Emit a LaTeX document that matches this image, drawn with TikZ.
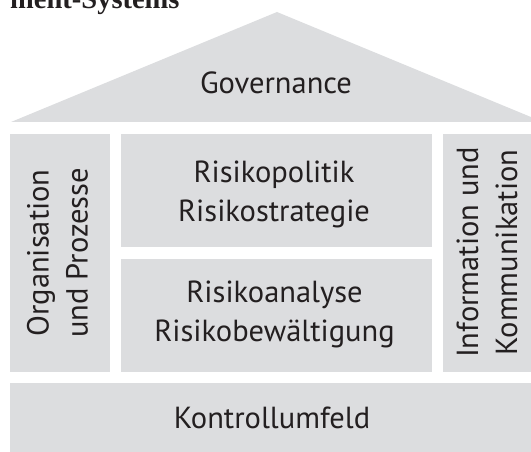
\documentclass[tikz,border=0pt]{standalone}
\usepackage{fontspec}
\setmainfont{PT Sans}
\newfontfamily\headserif{Liberation Serif}
\definecolor{boxgray}{RGB}{220,221,223}
\definecolor{inkdark}{RGB}{35,31,32}
\begin{document}
\begin{tikzpicture}[x=1pt,y=-1pt,
  panel/.style={fill=boxgray, draw=none, inner sep=0pt},
  lbl/.style={text=inkdark, inner sep=0pt, font=\fontsize{30.5}{39}\selectfont, align=center},
  vlbl/.style={lbl, rotate=90}]
\useasboundingbox (0,0) rectangle (531,452);
\clip (0,0) rectangle (531,452);
% top cut-off heading
\node[anchor=base west, inner sep=0pt, text=inkdark, font=\headserif\bfseries\fontsize{28.5}{34}\selectfont] (head) at (10,8.5) {ment-Systems};
% roof
\coordinate (roofL) at (11,122);
\coordinate (roofT) at (277,12);
\coordinate (roofR) at (543,122);
\fill[boxgray] (roofL) -- (roofT) -- (roofR) -- cycle;
\node[lbl, anchor=base] (gov) at (276,94) {Governance};
% pillars
\node[panel, minimum width=100, minimum height=238] (org) at (60,253) {};
\node[panel, minimum width=311, minimum height=113] (pol) at (276.5,190.5) {};
\node[panel, minimum width=311, minimum height=113] (ana) at (276.5,315.5) {};
\node[panel, minimum width=100, minimum height=238] (inf) at (493,253) {};
\node[panel, minimum width=533, minimum height=80] (kon) at (276.5,423) {};
% labels
\node[vlbl] (orgT) at (57.5,253) {Organisation\\und Prozesse};
\node[lbl] (polT) at (274,194) {Risikopolitik\\Risikostrategie};
\node[lbl] (anaT) at (274.5,314) {Risikoanalyse\\Risikobewältigung};
\node[vlbl] (infT) at (487,252.5) {Information und\\Kommunikation};
\node[lbl, anchor=base] (konT) at (272,428) {Kontrollumfeld};
\end{tikzpicture}
\end{document}
